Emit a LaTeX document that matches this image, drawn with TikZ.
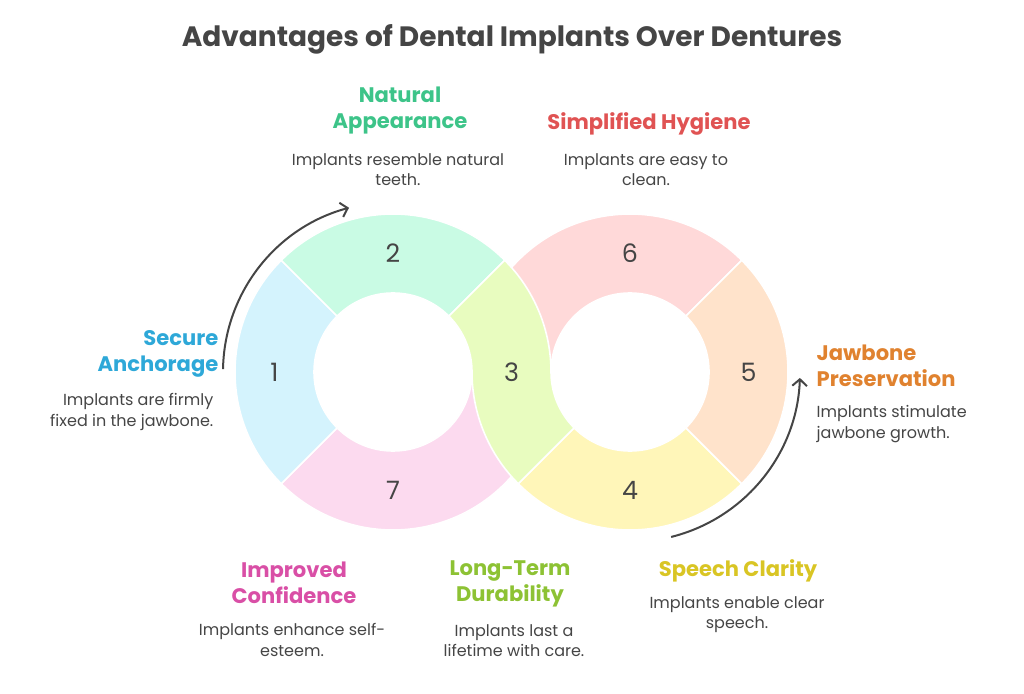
\documentclass[tikz,border=0pt]{standalone}
\usepackage{fontspec}
\setmainfont{Poppins}
\usetikzlibrary{arrows.meta}

\definecolor{ink}{HTML}{454545}
\definecolor{fillA}{HTML}{D4F3FD}
\definecolor{fillB}{HTML}{C9FBE4}
\definecolor{fillC}{HTML}{E8FCBF}
\definecolor{fillD}{HTML}{FFF6B9}
\definecolor{fillE}{HTML}{FFE3CB}
\definecolor{fillF}{HTML}{FFD9D9}
\definecolor{fillG}{HTML}{FCDAEF}
\definecolor{anchorcol}{HTML}{2EA8D8}
\definecolor{naturalcol}{HTML}{3DC489}
\definecolor{hygienecol}{HTML}{E05353}
\definecolor{jawcol}{HTML}{E0822F}
\definecolor{speechcol}{HTML}{D9C524}
\definecolor{durablecol}{HTML}{8DC234}
\definecolor{confidcol}{HTML}{D94FA6}

\begin{document}
\begin{tikzpicture}[x=0.75pt, y=0.75pt, >={Straight Barb[length=5pt,width=11pt]},
  part/.style={draw=white, line width=1.2pt},
  head/.style={font=\bfseries\fontsize{15.8}{19.5}\selectfont, align=center},
  desc/.style={text=ink, font=\fontsize{12}{15.2}\selectfont, align=center},
  num/.style={text=ink, font=\fontsize{19}{20}\selectfont}]
  \useasboundingbox (0,0) rectangle (1024,693);
  \coordinate (c1) at (393,321);
  \coordinate (c2) at (630,321);

  % ring parts, the ones under part 3 first
  \foreach \c/\a/\b/\col in {c2/45/180/fillF, c1/225/360/fillG, c1/135/225/fillA,
      c1/45/135/fillB, c2/225/315/fillD, c2/-45/45/fillE}
    \filldraw[part, fill=\col] ([shift={(\c)}]\a:158) arc[start angle=\a, end angle=\b, radius=158]
      -- ([shift={(\c)}]\b:79) arc[start angle=\b, end angle=\a, radius=79] -- cycle;
  % part 3 runs from one ring into the other
  \filldraw[part, fill=fillC] ([shift={(c1)}]45:158) arc[start angle=45, end angle=0, radius=158]
    arc[start angle=180, end angle=225, radius=79]
    -- ([shift={(c2)}]225:158) arc[start angle=225, end angle=180, radius=158]
    arc[start angle=0, end angle=45, radius=79] -- cycle;

  \node[num] (n1) at ([shift={(c1)}]180:118.5) {1};
  \node[num] (n2) at ([shift={(c1)}]90:118.5) {2};
  \node[num] (n3) at ([shift={(c1)}]0:118.5) {3};
  \node[num] (n4) at ([shift={(c2)}]270:118.5) {4};
  \node[num] (n5) at ([shift={(c2)}]0:118.5) {5};
  \node[num] (n6) at ([shift={(c2)}]90:118.5) {6};
  \node[num] (n7) at ([shift={(c1)}]270:118.5) {7};

  % arrows round the rings
  \draw[->, ink, line width=1.5pt] ([shift={(c1)}]179:170) arc[start angle=179, end angle=105, radius=170];
  \draw[->, ink, line width=1.5pt] ([shift={(c2)}]-76:170) arc[start angle=-76, end angle=-2, radius=170];

  \node[text=ink, font=\bfseries\fontsize{21}{24}\selectfont] (title) at (512,654) {Advantages of Dental Implants Over Dentures};

  \node[head, text=naturalcol] (natural) at (400,582) {Natural\\Appearance};
  \node[desc] (naturaltxt) at (398,523) {Implants resemble natural\\teeth.};
  \node[head, text=hygienecol] (hygiene) at (649,569) {Simplified Hygiene};
  \node[desc] (hygienetxt) at (646,523) {Implants are easy to\\clean.};
  \node[head, text=anchorcol, align=right, anchor=east] (anchor) at (223,339) {Secure\\Anchorage};
  \node[desc, align=right, anchor=east] (anchortxt) at (218,281) {Implants are firmly\\fixed in the jawbone.};
  \node[head, text=jawcol, align=left, anchor=west] (jaw) at (812,327) {Jawbone\\Preservation};
  \node[desc, align=left, anchor=west] (jawtxt) at (812,269) {Implants stimulate\\jawbone growth.};
  \node[head, text=confidcol] (confid) at (294,110) {Improved\\Confidence};
  \node[desc] (confidtxt) at (292,53) {Implants enhance self-\\esteem.};
  \node[head, text=durablecol] (durable) at (510,109) {Long-Term\\Durability};
  \node[desc] (durabletxt) at (514,52) {Implants last a\\lifetime with care.};
  \node[head, text=speechcol] (speech) at (738,122) {Speech Clarity};
  \node[desc] (speechtxt) at (737,78) {Implants enable clear\\speech.};
\end{tikzpicture}
\end{document}
